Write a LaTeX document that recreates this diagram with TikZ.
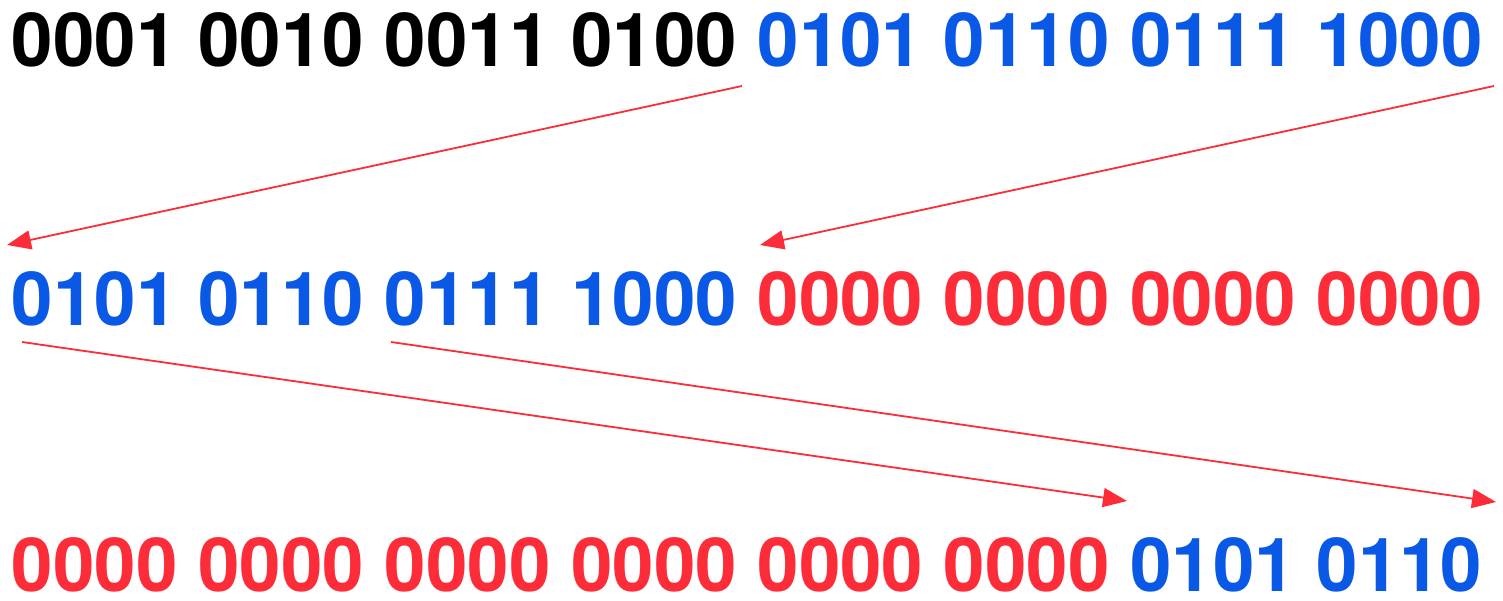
\documentclass[tikz,border=0pt]{standalone}
\usepackage{fontspec}
\setmainfont{TeX Gyre Heros}
\usetikzlibrary{arrows.meta}
\definecolor{bblue}{RGB}{10,88,230}
\definecolor{rred}{RGB}{252,44,56}
\tikzset{
  row/.style={anchor=base west, inner sep=0pt, outer sep=0pt, font=\fontsize{74.5}{90}\selectfont\bfseries},
  movearrow/.style={draw=rred, line width=1.8pt, -{Triangle[length=24pt,width=19pt]}}
}
\begin{document}
\begin{tikzpicture}[x=1pt,y=-1pt]
\useasboundingbox (0,0) rectangle (1503,601);
\node[row] (r1) at (12,67) {0001 0010 0011 0100 \textcolor{bblue}{0101 0110 0111 1000}};
\node[row] (r2) at (12,325) {\textcolor{bblue}{0101 0110 0111 1000} \textcolor{rred}{0000 0000 0000 0000}};
\node[row] (r3) at (12,591) {\textcolor{rred}{0000 0000 0000 0000 0000 0000} \textcolor{bblue}{0101 0110}};
\coordinate (a1s) at (742,86);
\coordinate (a1e) at (7,245);
\coordinate (a2s) at (1494,86);
\coordinate (a2e) at (760,245);
\coordinate (a3s) at (22,342);
\coordinate (a3e) at (1127,501);
\coordinate (a4s) at (391,342);
\coordinate (a4e) at (1496,502);
\draw[movearrow] (a1s) -- (a1e);
\draw[movearrow] (a2s) -- (a2e);
\draw[movearrow] (a3s) -- (a3e);
\draw[movearrow] (a4s) -- (a4e);
\end{tikzpicture}
\end{document}
